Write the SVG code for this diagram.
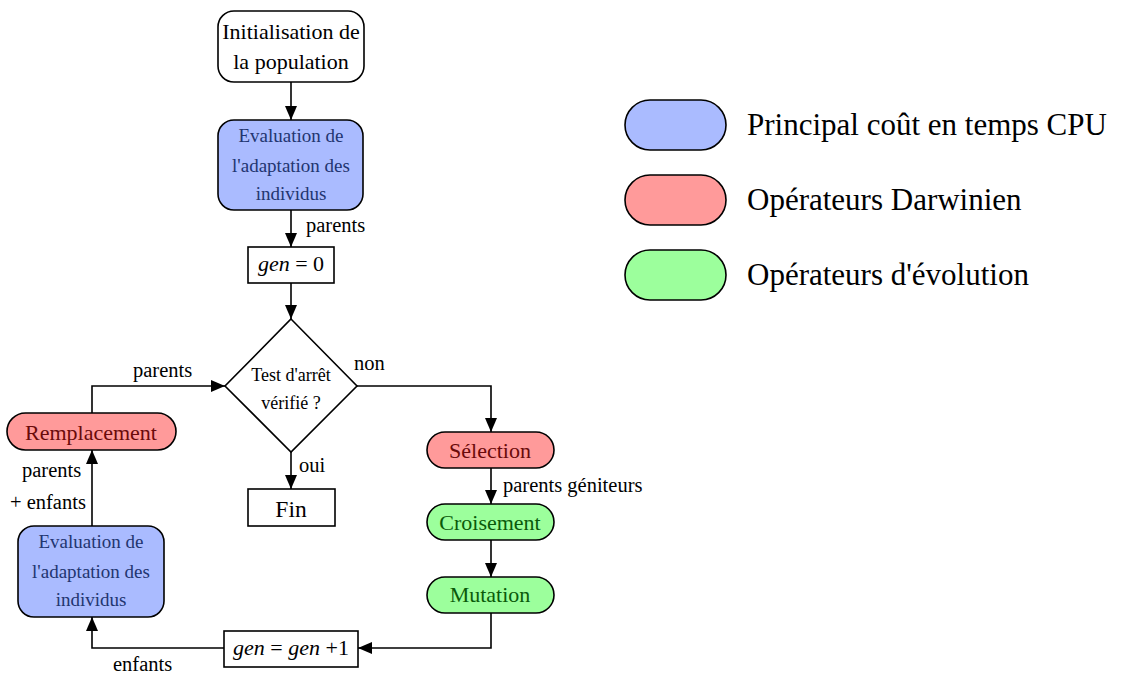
<svg xmlns="http://www.w3.org/2000/svg" width="1124" height="673" viewBox="0 0 1124 673">
<style>
text{font-family:"Liberation Serif","Times New Roman",serif;fill:#000}
.box{stroke:#000;stroke-width:1.6}
.w{fill:#fff}
.b{fill:#aabbff}
.r{fill:#ff9a9a}
.g{fill:#9cff9c}
.tb{fill:#223570}
.tr{fill:#6a0a0a}
.tg{fill:#0a5a0a}
.n{font-size:22px;text-anchor:middle}
.e{font-size:19px;text-anchor:middle}
.lbl{font-size:20.5px}
.leg{font-size:31px}
.c{fill:none;stroke:#000;stroke-width:1.6}
</style>
<defs>
<marker id="ah" markerUnits="userSpaceOnUse" markerWidth="16" markerHeight="12" refX="14" refY="6" orient="auto">
<path d="M0,0 L14,6 L0,12 Z" fill="#000"/>
</marker>
</defs>
<g id="connectors">
<path class="c" d="M291,82 V120" marker-end="url(#ah)"/>
<path class="c" d="M291,210 V247" marker-end="url(#ah)"/>
<path class="c" d="M291,283 V319" marker-end="url(#ah)"/>
<path class="c" d="M291,452 V489" marker-end="url(#ah)"/>
<path class="c" d="M357,386 H491 V432" marker-end="url(#ah)"/>
<path class="c" d="M491,468 V504" marker-end="url(#ah)"/>
<path class="c" d="M491,540 V577" marker-end="url(#ah)"/>
<path class="c" d="M491,613 V648 H358" marker-end="url(#ah)"/>
<path class="c" d="M224,648 H92 V617" marker-end="url(#ah)"/>
<path class="c" d="M92,526 V450" marker-end="url(#ah)"/>
<path class="c" d="M92,413 V386 H225" marker-end="url(#ah)"/>
<text class="lbl" x="306" y="232">parents</text>
<text class="lbl" x="354" y="370">non</text>
<text class="lbl" x="299" y="472">oui</text>
<text class="lbl" x="133" y="377">parents</text>
<text class="lbl" x="22" y="477">parents</text>
<text class="lbl" x="10" y="509">+ enfants</text>
<text class="lbl" x="113" y="671">enfants</text>
<text class="lbl" x="503" y="492">parents géniteurs</text>
</g>
<g id="init">
<rect class="box w" x="218" y="11" width="146" height="71" rx="16"/>
<text class="n" x="291" y="39">Initialisation de</text>
<text class="n" x="291" y="69">la population</text>
</g>
<g id="eval1">
<rect class="box b" x="218" y="120" width="145" height="90" rx="16"/>
<text class="e tb" x="291" y="142">Evaluation de</text>
<text class="e tb" x="291" y="172">l'adaptation des</text>
<text class="e tb" x="291" y="200">individus</text>
</g>
<g id="gen0">
<rect class="box w" x="248" y="247" width="86" height="36"/>
<text class="n" x="291" y="271"><tspan font-style="italic">gen</tspan> = 0</text>
</g>
<g id="test">
<polygon class="box w" points="291,319 357,386 291,452 225,386"/>
<text x="291" y="381" font-size="18" text-anchor="middle">Test d'arrêt</text>
<text x="291" y="409" font-size="18" text-anchor="middle">vérifié ?</text>
</g>
<g id="fin">
<rect class="box w" x="248" y="489" width="87" height="37"/>
<text x="291" y="517" font-size="23.5" text-anchor="middle">Fin</text>
</g>
<g id="selection">
<rect class="box r" x="427" y="432" width="127" height="36" rx="18"/>
<text class="n tr" x="490" y="458">Sélection</text>
</g>
<g id="croisement">
<rect class="box g" x="427" y="504" width="127" height="36" rx="18"/>
<text class="n tg" x="490" y="530">Croisement</text>
</g>
<g id="mutation">
<rect class="box g" x="427" y="577" width="127" height="36" rx="18"/>
<text class="n tg" x="490" y="602">Mutation</text>
</g>
<g id="gen1">
<rect class="box w" x="224" y="631" width="134" height="36"/>
<text class="n" x="291" y="655"><tspan font-style="italic">gen</tspan> = <tspan font-style="italic">gen</tspan> +1</text>
</g>
<g id="eval2">
<rect class="box b" x="18" y="526" width="146" height="91" rx="16"/>
<text class="e tb" x="91" y="548">Evaluation de</text>
<text class="e tb" x="91" y="578">l'adaptation des</text>
<text class="e tb" x="91" y="606">individus</text>
</g>
<g id="remplacement">
<rect class="box r" x="7" y="413" width="169" height="37" rx="18.5"/>
<text class="n tr" x="91" y="440">Remplacement</text>
</g>
<g id="legend">
<rect class="box b" x="625" y="100" width="101" height="50" rx="25"/>
<text class="leg" x="747" y="135">Principal coût en temps CPU</text>
<rect class="box r" x="625" y="175" width="101" height="50" rx="25"/>
<text class="leg" x="747" y="210">Opérateurs Darwinien</text>
<rect class="box g" x="625" y="250" width="101" height="50" rx="25"/>
<text class="leg" x="747" y="285">Opérateurs d'évolution</text>
</g>
</svg>
